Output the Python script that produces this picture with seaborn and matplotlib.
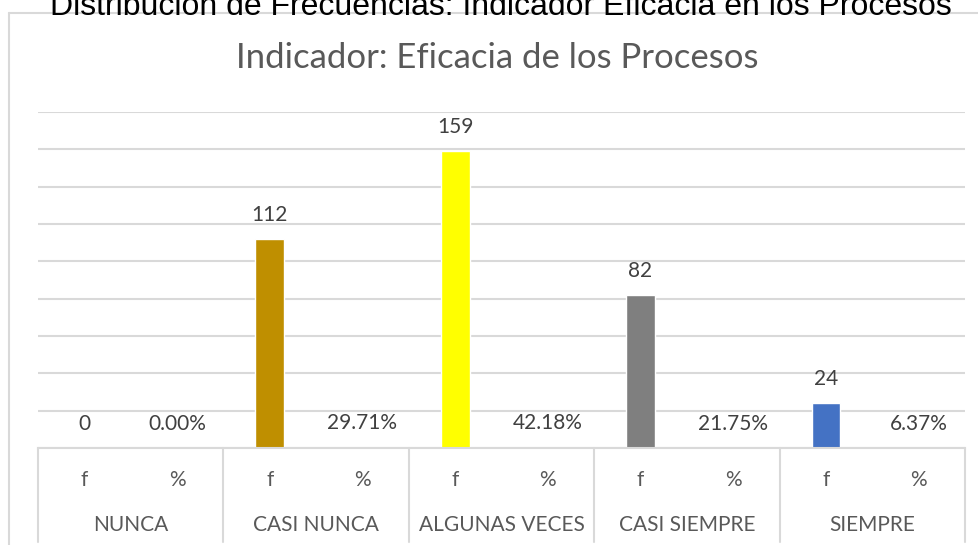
"""Distribución de frecuencias: Indicador Eficacia de los Procesos"""
import numpy as np
import pandas as pd
import seaborn as sns
import matplotlib.pyplot as plt
from matplotlib.lines import Line2D

# categorías y valores
CATEGORIAS = ['NUNCA', 'CASI NUNCA', 'ALGUNAS VECES', 'CASI SIEMPRE', 'SIEMPRE']
SUBCOLUMNAS = ['f', '%']
FRECUENCIAS = [0, 112, 159, 82, 24]
PORCENTAJES = [0.0000, 0.2971, 0.4218, 0.2175, 0.0637]
COLORES_F = ['#4472C4', '#BF8F00', '#FFFF00', '#7F7F7F', '#4472C4']
COLOR_PCT = '#8FAADC'
Y_TICKS = [0, 20, 40, 60, 80, 100, 120, 140, 160, 180]

W, H = 979, 545
GRIS = '#D9D9D9'
TEXTO = '#595959'

sns.set_theme(style='white')
plt.rcParams['font.family'] = ['Lato', 'DejaVu Sans']

# tabla larga: una fila por barra
filas = []
for cat, f, p, c in zip(CATEGORIAS, FRECUENCIAS, PORCENTAJES, COLORES_F):
    filas.append({'slot': f'{cat} f', 'valor': f, 'color': c, 'etiqueta': f'{f}'})
    filas.append({'slot': f'{cat} %', 'valor': p, 'color': COLOR_PCT, 'etiqueta': f'{p:.2%}'})
df = pd.DataFrame(filas)

fig = plt.figure(figsize=(W / 100, H / 100), dpi=100)
x0, x1, ytop, ybot = 38, 965, 112, 448
ax = fig.add_axes([x0 / W, (H - ybot) / H, (x1 - x0) / W, (ybot - ytop) / H])

sns.barplot(data=df, x='slot', y='valor', hue='slot',
            palette=dict(zip(df['slot'], df['color'])),
            width=0.31, legend=False, ax=ax, saturation=1)

ax.set_ylim(Y_TICKS[0], Y_TICKS[-1])
ax.set_xlim(-0.5, len(df) - 0.5)
ax.set_yticks(Y_TICKS)
ax.yaxis.grid(True, color=GRIS, linewidth=1.5)
ax.set_axisbelow(True)
ax.set_yticklabels([])
ax.set_xticklabels([])
ax.tick_params(length=0)
ax.set_xlabel('')
ax.set_ylabel('')
for s in ['top', 'right', 'left']:
    ax.spines[s].set_visible(False)
ax.spines['bottom'].set_color(GRIS)
ax.spines['bottom'].set_linewidth(1.5)

# etiquetas de datos
for i, fila in df.iterrows():
    ax.annotate(fila['etiqueta'], (i, fila['valor']), xytext=(0, 13),
                textcoords='offset points', ha='center', va='baseline',
                fontsize=15, color='#404040')

# tabla de categorías bajo el eje
tr = ax.get_xaxis_transform()
prof = -(542 - ybot) / (ybot - ytop)
for k in range(len(CATEGORIAS) + 1):
    ax.plot([k * 2 - 0.5] * 2, [0, prof], transform=tr, color=GRIS,
            linewidth=1.5, clip_on=False)
y_sub = -(480 - ybot) / (ybot - ytop)
y_cat = -(525 - ybot) / (ybot - ytop)
for k, cat in enumerate(CATEGORIAS):
    for j, sub in enumerate(SUBCOLUMNAS):
        ax.text(k * 2 + j, y_sub, sub, transform=tr, ha='center', va='center',
                fontsize=15, color=TEXTO)
    ax.text(k * 2 + 0.5, y_cat, cat, transform=tr, ha='center', va='center',
            fontsize=15, color=TEXTO)

# marco del gráfico
fig.add_artist(Line2D([9 / W, 9 / W], [0, (H - 13) / H], color=GRIS, linewidth=1.5))
fig.add_artist(Line2D([9 / W, 1], [(H - 13) / H] * 2, color=GRIS, linewidth=1.5))

# títulos
fig.text(497 / W, (H - 68) / H, 'Indicador: Eficacia de los Procesos',
         ha='center', va='baseline', fontsize=25, color=TEXTO)
fig.text(501 / W, (H - 15) / H,
         'Distribución de Frecuencias: Indicador Eficacia en los Procesos',
         ha='center', va='baseline', fontsize=23, color='black',
         family=['Liberation Sans', 'DejaVu Sans'])

fig.savefig('out.png', dpi=100)
